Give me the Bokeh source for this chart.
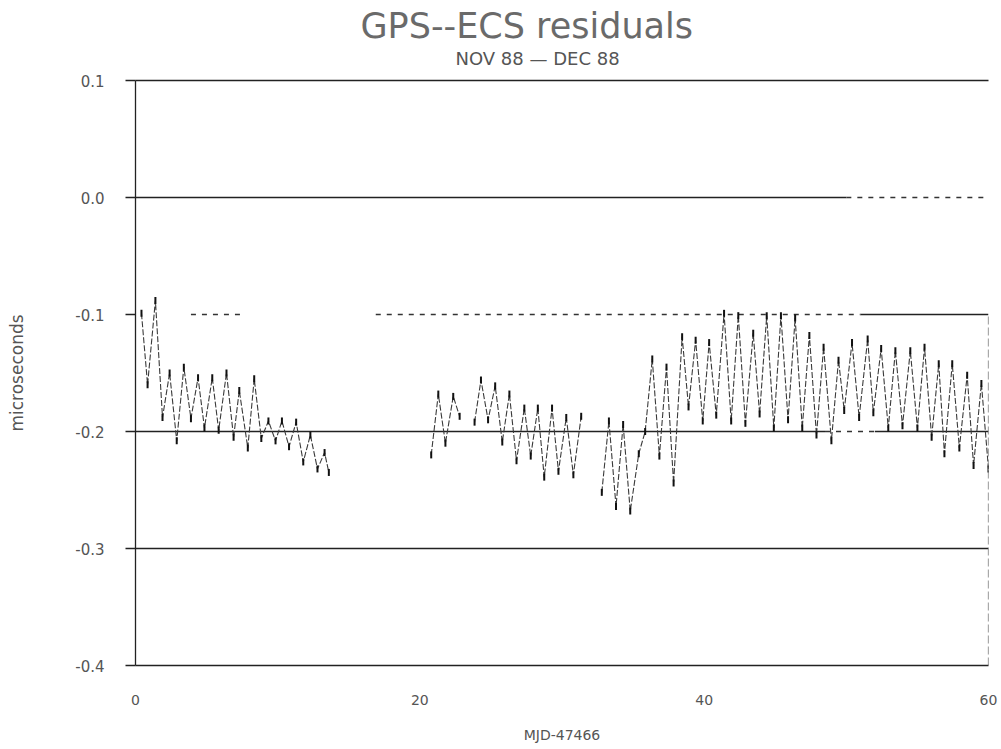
from bokeh.plotting import figure
from bokeh.models import Range1d, LinearAxis, FixedTicker, Title
from bokeh.embed import file_html
from bokeh.resources import INLINE
import math

# ---------------- data ----------------
seg1_x = [0.42, 0.85, 1.4, 1.9, 2.4, 2.9, 3.4, 3.9, 4.4, 4.85, 5.4, 5.85, 6.4, 6.9,
          7.3, 7.9, 8.35, 8.85, 9.35, 9.85, 10.3, 10.8, 11.3, 11.8, 12.3, 12.8, 13.3, 13.6]
seg1_y = [-0.099, -0.160, -0.088, -0.188, -0.150, -0.208, -0.145, -0.189, -0.154, -0.197,
          -0.154, -0.199, -0.150, -0.205, -0.165, -0.214, -0.155, -0.206, -0.191, -0.208,
          -0.191, -0.213, -0.192, -0.226, -0.203, -0.232, -0.218, -0.235]

seg2_x = [20.8, 21.3, 21.8, 22.35, 22.8]
seg2_y = [-0.220, -0.168, -0.210, -0.170, -0.187]

seg3_x = [23.85, 24.3, 24.8, 25.3, 25.8, 26.3, 26.8, 27.35, 27.8, 28.3, 28.75, 29.3,
          29.75, 30.3, 30.8, 31.35]
seg3_y = [-0.192, -0.156, -0.190, -0.161, -0.209, -0.168, -0.225, -0.180, -0.221, -0.180,
          -0.239, -0.180, -0.234, -0.188, -0.237, -0.187]

seg4_x = [32.8, 33.3, 33.8, 34.3, 34.8, 35.4, 35.85, 36.35, 36.85, 37.35, 37.85, 38.45,
          38.9, 39.4, 39.9, 40.35, 40.85, 41.4, 41.9, 42.4, 42.9, 43.45, 43.9, 44.4, 44.9,
          45.4, 45.9, 46.4, 46.9, 47.4, 47.9, 48.4, 48.95, 49.45, 49.85, 50.4, 50.9, 51.5,
          51.9, 52.45, 52.95, 53.45, 53.95, 54.5, 55.0, 55.5, 56.0, 56.5, 56.9, 57.45,
          57.95, 58.5, 58.95, 59.5, 60.0]
seg4_y = [-0.252, -0.191, -0.264, -0.194, -0.268, -0.219, -0.200, -0.138, -0.221, -0.145,
          -0.244, -0.119, -0.179, -0.122, -0.191, -0.124, -0.186, -0.099, -0.191, -0.101,
          -0.193, -0.116, -0.185, -0.101, -0.197, -0.101, -0.190, -0.103, -0.197, -0.118,
          -0.203, -0.128, -0.208, -0.139, -0.182, -0.124, -0.188, -0.121, -0.184, -0.129,
          -0.197, -0.131, -0.195, -0.131, -0.197, -0.128, -0.205, -0.142, -0.219, -0.142,
          -0.214, -0.152, -0.229, -0.159, -0.232]

y_ticks = [0.1, 0.0, -0.1, -0.2, -0.3, -0.4]
y_tick_labels = ["0.1", "0.0", "-0.1", "-0.2", "-0.3", "-0.4"]
x_ticks = [0, 20, 40, 60]

# reference lines (level, start, end)
ref_solid = [(0.0, 0, 50), (-0.1, 51, 60), (-0.2, 0, 48.5), (-0.2, 52, 60), (-0.3, 0, 60)]
ref_dashed = [(0.0, 50, 60), (-0.1, 3.9, 7.4), (-0.1, 16.9, 51), (-0.2, 48.5, 52)]

title_text = "GPS--ECS residuals"
subtitle_text = "NOV 88 \u2014 DEC 88"
x_label = "MJD-47466"
y_label = "microseconds"

# ---------------- figure ----------------
W, H = 1000, 749
axis_col = "#222222"
text_col = "#555555"
font = "DejaVu Sans"

p = figure(width=W, height=H, output_backend="svg", toolbar_location=None,
           x_range=Range1d(0, 60), y_range=Range1d(-0.4, 0.1),
           min_border_left=135, min_border_right=12, min_border_top=80,
           min_border_bottom=84, x_axis_location=None, y_axis_location=None)
p.outline_line_color = None
p.xgrid.visible = False
p.ygrid.visible = False

yax = LinearAxis(ticker=FixedTicker(ticks=y_ticks))
yax.major_label_overrides = {t: l for t, l in zip(y_ticks, y_tick_labels)}
yax.axis_line_color = axis_col
yax.axis_line_width = 1.3
yax.major_tick_line_color = axis_col
yax.major_tick_line_width = 1.3
yax.major_tick_out = 10
yax.major_tick_in = 0
yax.minor_tick_line_color = None
yax.major_label_standoff = 21
yax.major_label_text_font = font
yax.major_label_text_font_size = "15px"
yax.major_label_text_color = text_col
yax.axis_label = y_label
yax.axis_label_text_font = font
yax.axis_label_text_font_size = "17px"
yax.axis_label_text_font_style = "normal"
yax.axis_label_text_color = text_col
yax.axis_label_standoff = 45
p.add_layout(yax, "left")

xax = LinearAxis(ticker=FixedTicker(ticks=x_ticks))
xax.axis_line_color = axis_col
xax.axis_line_width = 1.5
xax.major_tick_line_color = None
xax.minor_tick_line_color = None
xax.major_label_standoff = 23
xax.major_label_text_font = font
xax.major_label_text_font_size = "14px"
xax.major_label_text_color = text_col
xax.axis_label = x_label
xax.axis_label_text_font = font
xax.axis_label_text_font_size = "14px"
xax.axis_label_text_font_style = "normal"
xax.axis_label_text_color = text_col
xax.axis_label_standoff = 19
p.add_layout(xax, "below")

top = LinearAxis(ticker=FixedTicker(ticks=[]))
top.axis_line_color = axis_col
top.axis_line_width = 1.5
top.major_tick_line_color = None
top.minor_tick_line_color = None
top.major_label_text_font_size = "0px"
p.add_layout(top, "above")

# thin spacer between the frame and the subtitle
p.add_layout(Title(text=" ", text_font_size="6px", standoff=4), "above")
p.add_layout(Title(text=subtitle_text, align="left", offset=320, text_font=font,
                   text_font_size="18px", text_font_style="normal",
                   text_color=text_col, standoff=0), "above")
p.add_layout(Title(text=title_text, align="left", offset=225, text_font=font,
                   text_font_size="35px", text_font_style="normal",
                   text_color="#6a6a6a", standoff=0), "above")

# reference lines
p.segment(x0=[s[1] for s in ref_solid], x1=[s[2] for s in ref_solid],
          y0=[s[0] for s in ref_solid], y1=[s[0] for s in ref_solid],
          line_color=axis_col, line_width=1.5)
p.segment(x0=[s[1] for s in ref_dashed], x1=[s[2] for s in ref_dashed],
          y0=[s[0] for s in ref_dashed], y1=[s[0] for s in ref_dashed],
          line_color="#333333", line_width=1.3, line_dash="5 6")

# right border (partial, faint)
p.segment(x0=[60], x1=[60], y0=[-0.4], y1=[-0.1], line_color="#555555", line_width=1.2,
          line_dash="8 3")

# data line
nan = float("nan")
xs = seg1_x + [nan] + seg2_x + [nan] + seg3_x + [nan] + seg4_x
ys = seg1_y + [nan] + seg2_y + [nan] + seg3_y + [nan] + seg4_y
p.line(xs, ys, line_color="#3a3a3a", line_width=1.1, line_dash="6 2")
allx = seg1_x + seg2_x + seg3_x + seg4_x
ally = seg1_y + seg2_y + seg3_y + seg4_y
p.scatter(allx, ally, marker="dash", angle=math.pi / 2, size=7,
          line_color="#111111", line_width=2)

open("out.html", "w").write(file_html(p, INLINE))
